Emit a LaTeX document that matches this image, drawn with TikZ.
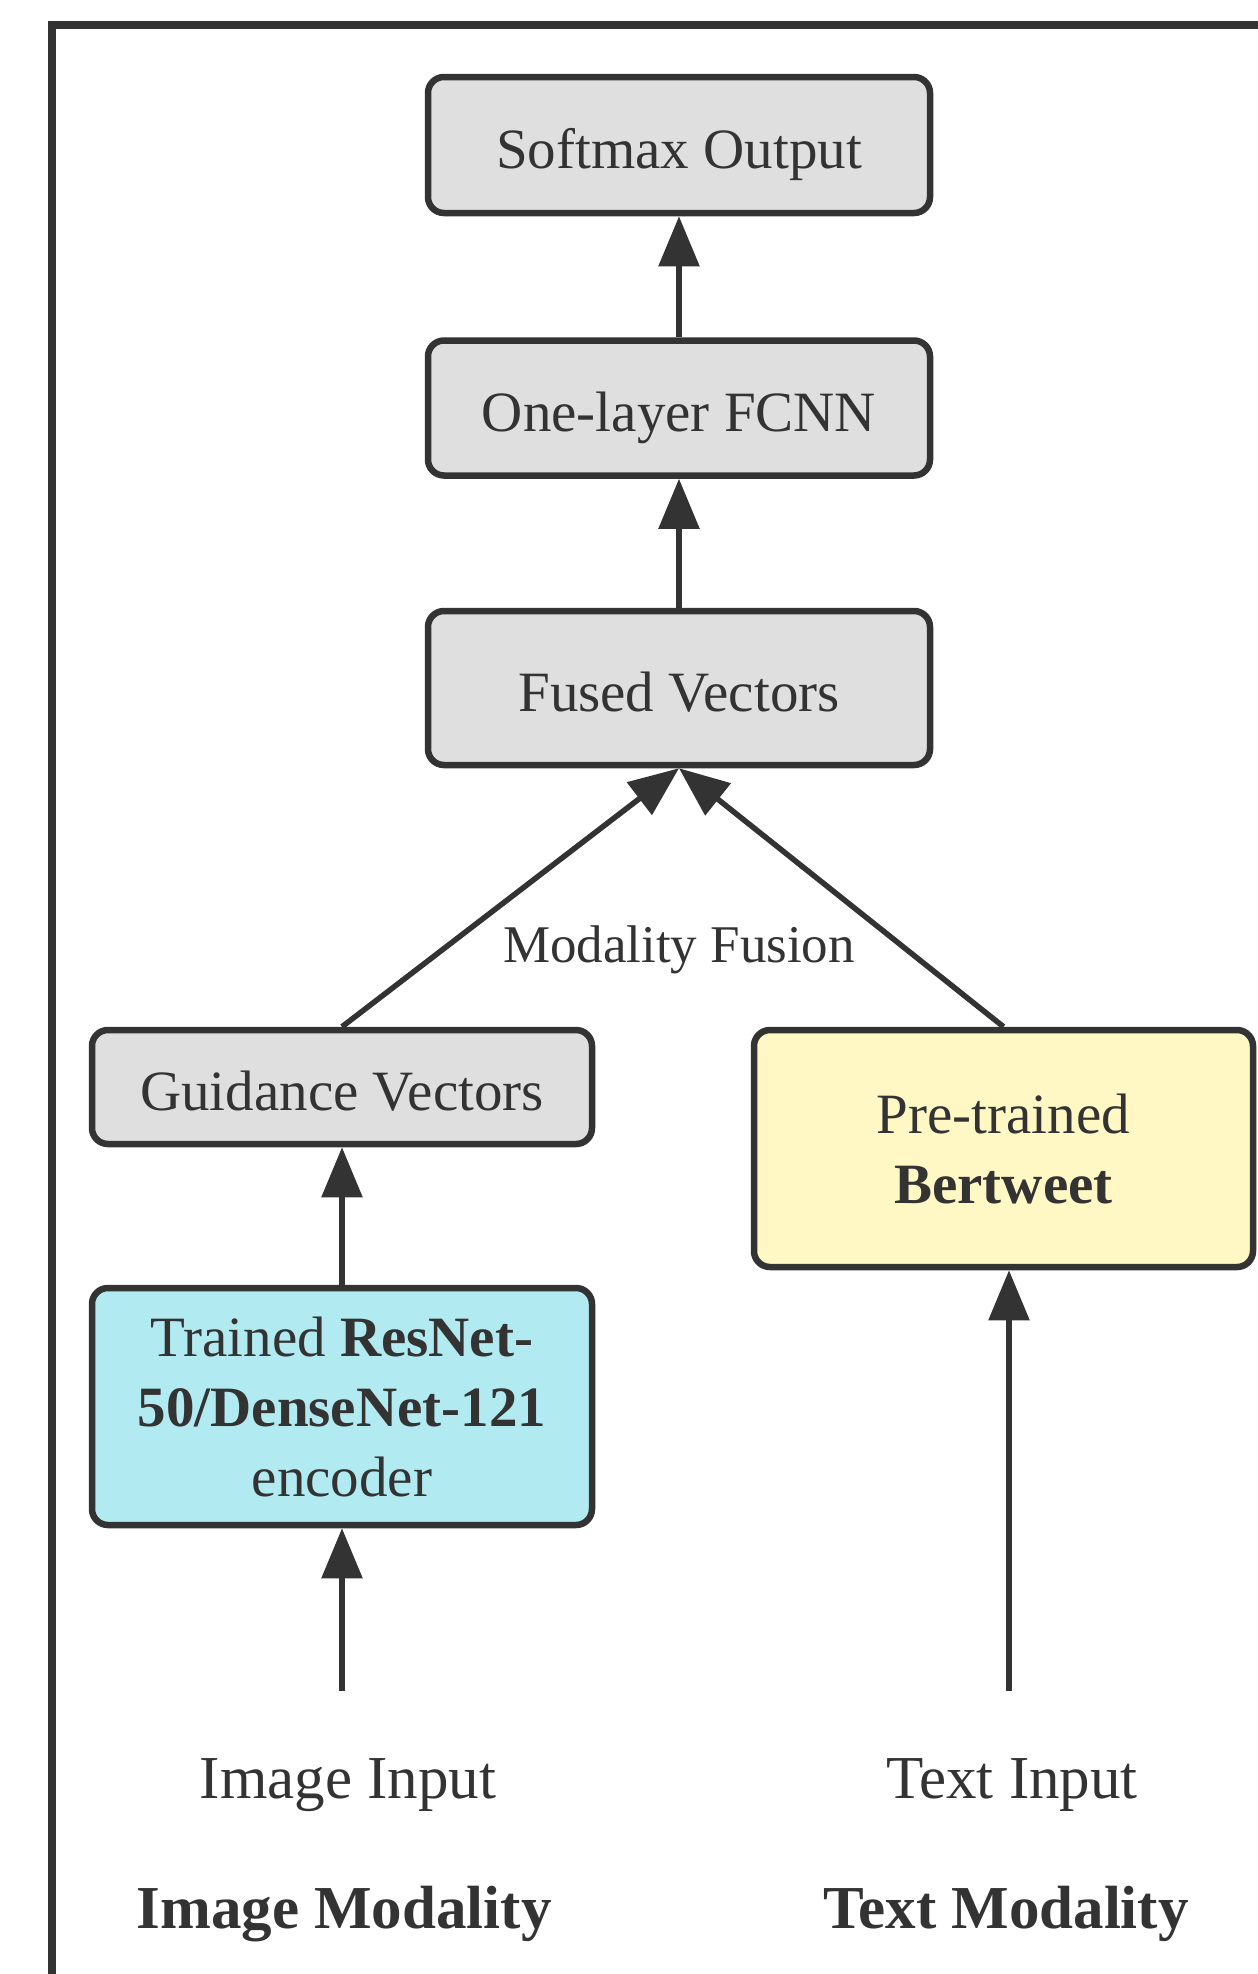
\documentclass[tikz,border=0pt]{standalone}
\usepackage{fontspec}
\setmainfont{Liberation Serif}
\usetikzlibrary{arrows.meta}
\definecolor{ink}{HTML}{333333}
\definecolor{boxgray}{HTML}{DFDFDF}
\definecolor{boxcyan}{HTML}{B1EAF0}
\definecolor{boxyellow}{HTML}{FFF8C5}
\begin{document}
\begin{tikzpicture}[x=1pt,y=-1pt,
  box/.style={draw=ink, line width=6.5pt, rounded corners=16pt, fill=boxgray, text=ink,
    inner sep=0pt, align=center, font=\fontsize{57}{70}\selectfont},
  onebox/.style={box, text height=46pt, text depth=0pt},
  conn/.style={draw=ink, line width=5.5pt, -{Triangle[length=50pt,width=40pt]}},
  lbl/.style={text=ink, inner sep=0pt, font=\fontsize{61}{70}\selectfont},
  boldlbl/.style={text=ink, inner sep=0pt, font=\bfseries\fontsize{61}{70}\selectfont}]
\useasboundingbox (0,0) rectangle (1258,1974);
\fill[white] (0,0) rectangle (1258,1974);
\draw[ink, line width=8pt] (1300,24.5) -- (52,24.5) -- (52,2020);

\node[onebox, minimum width=502pt, minimum height=136pt] (soft) at (679,145) {Softmax Output};
\node[onebox, minimum width=502pt, minimum height=135pt] (fcnn) at (679,408) {One-layer FCNN};
\node[onebox, minimum width=502pt, minimum height=154pt] (fused) at (679,688) {Fused Vectors};
\node[onebox, minimum width=500pt, minimum height=114pt] (guid) at (342,1087) {Guidance Vectors};
\node[box, fill=boxyellow, minimum width=499pt, minimum height=237pt] (bert) at (1003.5,1148.5) {Pre-trained\\\textbf{Bertweet}};
\node[box, fill=boxcyan, minimum width=500pt, minimum height=237pt] (enc) at (342,1406.5) {Trained \textbf{ResNet-}\\\textbf{50/DenseNet-121}\\encoder};

\node[text=ink, inner sep=0pt, anchor=base, font=\fontsize{53}{64}\selectfont] (fuslbl) at (679,962) {Modality Fusion};

\node[lbl, anchor=base] (imgin) at (348,1798) {Image Input};
\node[lbl, anchor=base] (txtin) at (1012,1798) {Text Input};
\node[boldlbl, anchor=base] (imgmod) at (344,1928) {Image Modality};
\node[boldlbl, anchor=base] (txtmod) at (1006,1928) {Text Modality};

\coordinate (imgstart) at (342,1691);
\coordinate (txtstart) at (1009,1691);

\draw[conn] (fcnn.north) -- (soft.south);
\draw[conn] (fused.north) -- (fcnn.south);
\draw[conn] (guid.north) -- (fused.south);
\draw[conn] (bert.north) -- (fused.south);
\draw[conn] (enc.north) -- (guid.south);
\draw[conn] (imgstart) -- (enc.south);
\draw[conn] (txtstart) -- (bert.south -| txtstart);
\end{tikzpicture}
\end{document}
